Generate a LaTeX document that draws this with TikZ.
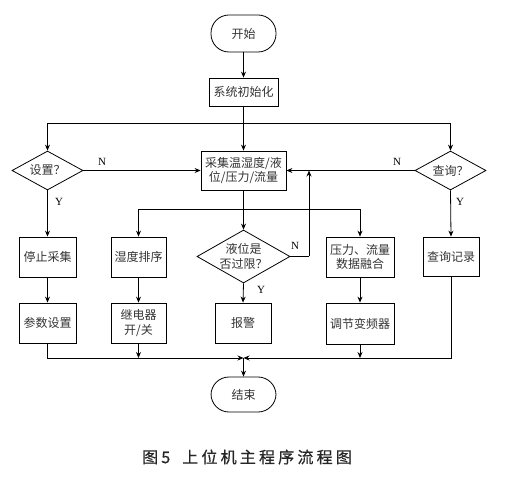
\documentclass[tikz,border=0pt]{standalone}
\usepackage{fontspec}
\setmainfont{Liberation Serif}
\newfontfamily\cjk{Noto Sans CJK SC}
\newfontfamily\capfont[LetterSpace=20,FakeBold=0.6]{Noto Sans CJK SC}
\usetikzlibrary{shapes.geometric,arrows.meta}
\begin{document}
\begin{tikzpicture}[x=1pt,y=-1pt,
  every node/.style={font=\cjk\fontsize{12}{14.5}\selectfont, text=black!80},
  proc/.style={draw=black, line width=0.8pt, inner sep=1pt, align=center},
  term/.style={draw=black, line width=0.8pt, minimum width=65pt, minimum height=37pt, rounded corners=18pt, inner sep=0pt},
  dia/.style={draw=black, line width=0.8pt, diamond, inner sep=0pt},
  lbl/.style={font=\fontsize{11}{13}\selectfont, text=black},
  conn/.style={line width=0.8pt, -{Stealth[length=6pt,width=5pt]}},
  line/.style={line width=0.8pt}]
\useasboundingbox (0,0) rectangle (522,478);
% nodes
\node[term] (start) at (243.5,33.5) {开始};
\node[proc, minimum width=69pt, minimum height=28pt] (init) at (243.5,92) {系统初始化};
\node[dia, minimum width=71pt, minimum height=39pt] (set) at (47.5,170.5) {};
\node at (set) {设置？};
\node[proc, minimum width=85pt, minimum height=39pt] (collect) at (243.5,170.5) {采集温湿度/液\\位/压力/流量};
\node[dia, minimum width=71pt, minimum height=39pt] (query) at (450.5,170.5) {};
\node at (query) {查询？};
\node[dia, minimum width=93pt, minimum height=53pt] (level) at (243.5,256.5) {};
\node[align=center] at (level) {液位是\\否过限？};
\node[proc, minimum width=57pt, minimum height=40pt] (stop) at (47.5,257) {停止采集};
\node[proc, minimum width=55pt, minimum height=40pt] (hsort) at (138.5,257) {湿度排序};
\node[proc, minimum width=68pt, minimum height=40pt] (fuse) at (360,257) {压力、流量\\数据融合};
\node[proc, minimum width=56pt, minimum height=39pt] (qrec) at (451,256.5) {查询记录};
\node[proc, minimum width=57pt, minimum height=40pt] (param) at (47.5,323) {参数设置};
\node[proc, minimum width=55pt, minimum height=40pt] (relay) at (138.5,323) {继电器\\开/关};
\node[proc, minimum width=56pt, minimum height=40pt] (alarm) at (243,323) {报警};
\node[proc, minimum width=68pt, minimum height=41pt] (inv) at (360,323.5) {调节变频器};
\node[term, minimum height=35pt] (end) at (243.5,394.5) {结束};
% labels
\node[lbl] (n1) at (102,162) {N};
\node[lbl] (n2) at (397,162) {N};
\node[lbl] (y1) at (59,202) {Y};
\node[lbl] (y2) at (460,202) {Y};
\node[lbl] (n3) at (295,246) {N};
\node[lbl] (y3) at (261,290) {Y};
% coordinates
\coordinate (j1) at (243.5,123);
\coordinate (j2) at (243.5,209);
\coordinate (j3) at (243.5,358);
\coordinate (fb) at (309,256.5);
\coordinate (fbt) at (309,170.5);
% connectors
\draw[conn] (start) -- (init);
\draw[line] (init.south) -- (j1);
\draw[conn] (j1) -- (collect.north);
\draw[conn] (j1) -| (set.north);
\draw[conn] (j1) -| (query.north);
\draw[conn] (set.east) -- (collect.west);
\draw[conn] (query.west) -- (collect.east);
\draw[conn] (set.south) -- (stop.north);
\draw[conn] (query.south) -- (qrec.north);
\draw[line] (collect.south) -- (j2);
\draw[conn] (j2) -- (level.north);
\draw[conn] (j2) -| (hsort.north);
\draw[conn] (j2) -| (fuse.north);
\draw[line] (level.east) -- (fb);
\draw[conn] (fb) -- (fbt);
\draw[conn] (level.south) -- (alarm.north);
\draw[conn] (stop) -- (param);
\draw[conn] (hsort) -- (relay);
\draw[conn] (fuse) -- (inv);
\draw[conn] (param.south) |- (j3);
\draw[conn] (relay.south) -- (relay.south |- j3);
\draw[conn] (qrec.south) |- (j3);
\draw[conn] (inv.south) -- (inv.south |- j3);
\draw[conn] (j3) -- (end.north);
% caption
\node[font=\capfont\fontsize{16}{19}\selectfont, text=black!85] (cap) at (247,457) {图5\hspace{12pt}上位机主程序流程图};
\end{tikzpicture}
\end{document}
